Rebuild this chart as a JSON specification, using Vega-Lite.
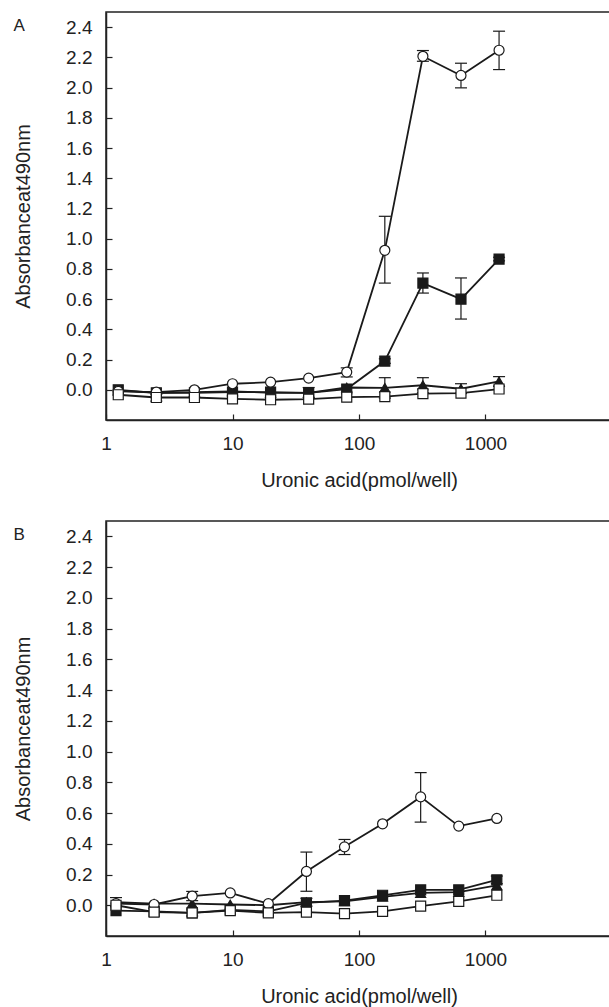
{
  "$schema": "https://vega.github.io/schema/vega-lite/v6.json",
  "padding": {"left": 12, "top": 11, "right": 0, "bottom": 0},
  "spacing": 29,
  "config": {
    "view": {"stroke": "#222", "strokeWidth": 1.5},
    "font": "Liberation Sans",
    "axis": {
      "grid": false,
      "domainColor": "#222",
      "domainWidth": 1.5,
      "tickColor": "#222",
      "tickWidth": 1.2,
      "tickSize": -6,
      "labelColor": "#222",
      "titleColor": "#222",
      "labelFont": "Liberation Sans",
      "titleFont": "Liberation Sans",
      "labelFontSize": 19,
      "titleFontSize": 20,
      "titleFontWeight": "normal",
      "labelOverlap": false
    },
    "title": {"font": "Liberation Sans", "fontSize": 17, "fontWeight": "normal", "color": "#222"}
  },
  "datasets": {
    "A": [
      {"dose": 1.25, "val": -0.005, "s": "FT"}, {"dose": 2.5, "val": -0.02, "s": "FT"}, {"dose": 5, "val": -0.015, "s": "FT"}, {"dose": 10, "val": -0.01, "s": "FT"}, {"dose": 20, "val": -0.02, "s": "FT"}, {"dose": 40, "val": -0.02, "s": "FT"}, {"dose": 80, "val": 0.015, "s": "FT"}, {"dose": 160, "val": 0.013, "s": "FT"}, {"dose": 320, "val": 0.03, "s": "FT"}, {"dose": 640, "val": 0.007, "s": "FT"}, {"dose": 1280, "val": 0.055, "s": "FT"},
      {"dose": 1.25, "val": 0.0, "s": "FS"}, {"dose": 2.5, "val": -0.02, "s": "FS"}, {"dose": 5, "val": -0.02, "s": "FS"}, {"dose": 10, "val": -0.015, "s": "FS"}, {"dose": 20, "val": -0.015, "s": "FS"}, {"dose": 40, "val": -0.02, "s": "FS"}, {"dose": 80, "val": 0.005, "s": "FS"}, {"dose": 160, "val": 0.19, "s": "FS"}, {"dose": 320, "val": 0.706, "s": "FS"}, {"dose": 640, "val": 0.6, "s": "FS"}, {"dose": 1280, "val": 0.865, "s": "FS"},
      {"dose": 1.25, "val": -0.01, "s": "OC"}, {"dose": 2.5, "val": -0.015, "s": "OC"}, {"dose": 5, "val": 0.0, "s": "OC"}, {"dose": 10, "val": 0.04, "s": "OC"}, {"dose": 20, "val": 0.05, "s": "OC"}, {"dose": 40, "val": 0.077, "s": "OC"}, {"dose": 80, "val": 0.117, "s": "OC"}, {"dose": 160, "val": 0.923, "s": "OC"}, {"dose": 320, "val": 2.207, "s": "OC"}, {"dose": 640, "val": 2.08, "s": "OC"}, {"dose": 1280, "val": 2.247, "s": "OC"},
      {"dose": 1.25, "val": -0.033, "s": "OS"}, {"dose": 2.5, "val": -0.051, "s": "OS"}, {"dose": 5, "val": -0.051, "s": "OS"}, {"dose": 10, "val": -0.06, "s": "OS"}, {"dose": 20, "val": -0.066, "s": "OS"}, {"dose": 40, "val": -0.062, "s": "OS"}, {"dose": 80, "val": -0.049, "s": "OS"}, {"dose": 160, "val": -0.045, "s": "OS"}, {"dose": 320, "val": -0.025, "s": "OS"}, {"dose": 640, "val": -0.022, "s": "OS"}, {"dose": 1280, "val": 0.005, "s": "OS"}
    ],
    "Aerr": [
      {"dose": 80, "lo": 0.085, "hi": 0.145}, {"dose": 160, "lo": 0.706, "hi": 1.148}, {"dose": 320, "lo": 2.174, "hi": 2.245}, {"dose": 640, "lo": 1.998, "hi": 2.161}, {"dose": 1280, "lo": 2.119, "hi": 2.373},
      {"dose": 40, "lo": -0.05, "hi": 0.015}, {"dose": 160, "lo": 0.175, "hi": 0.205}, {"dose": 320, "lo": 0.64, "hi": 0.773}, {"dose": 640, "lo": 0.468, "hi": 0.74}, {"dose": 1280, "lo": 0.853, "hi": 0.877},
      {"dose": 160, "lo": -0.055, "hi": 0.08}, {"dose": 320, "lo": -0.02, "hi": 0.08}, {"dose": 640, "lo": -0.025, "hi": 0.04}, {"dose": 1280, "lo": 0.023, "hi": 0.087},
      {"dose": 2.5, "lo": -0.075, "hi": -0.03}
    ],
    "B": [
      {"dose": 1.2, "val": 0.02, "s": "FT"}, {"dose": 2.4, "val": 0.01, "s": "FT"}, {"dose": 4.8, "val": 0.01, "s": "FT"}, {"dose": 9.6, "val": 0.005, "s": "FT"}, {"dose": 19.2, "val": 0.0, "s": "FT"}, {"dose": 38.4, "val": 0.02, "s": "FT"}, {"dose": 76.8, "val": 0.025, "s": "FT"}, {"dose": 153.6, "val": 0.055, "s": "FT"}, {"dose": 307.2, "val": 0.08, "s": "FT"}, {"dose": 614.4, "val": 0.085, "s": "FT"}, {"dose": 1228.8, "val": 0.13, "s": "FT"},
      {"dose": 1.2, "val": -0.035, "s": "FS"}, {"dose": 2.4, "val": -0.04, "s": "FS"}, {"dose": 4.8, "val": -0.05, "s": "FS"}, {"dose": 9.6, "val": -0.03, "s": "FS"}, {"dose": 19.2, "val": -0.04, "s": "FS"}, {"dose": 38.4, "val": 0.015, "s": "FS"}, {"dose": 76.8, "val": 0.03, "s": "FS"}, {"dose": 153.6, "val": 0.065, "s": "FS"}, {"dose": 307.2, "val": 0.1, "s": "FS"}, {"dose": 614.4, "val": 0.1, "s": "FS"}, {"dose": 1228.8, "val": 0.165, "s": "FS"},
      {"dose": 1.2, "val": 0.01, "s": "OC"}, {"dose": 2.4, "val": 0.005, "s": "OC"}, {"dose": 4.8, "val": 0.06, "s": "OC"}, {"dose": 9.6, "val": 0.08, "s": "OC"}, {"dose": 19.2, "val": 0.01, "s": "OC"}, {"dose": 38.4, "val": 0.22, "s": "OC"}, {"dose": 76.8, "val": 0.38, "s": "OC"}, {"dose": 153.6, "val": 0.53, "s": "OC"}, {"dose": 307.2, "val": 0.705, "s": "OC"}, {"dose": 614.4, "val": 0.515, "s": "OC"}, {"dose": 1228.8, "val": 0.565, "s": "OC"},
      {"dose": 1.2, "val": 0.0, "s": "OS"}, {"dose": 2.4, "val": -0.045, "s": "OS"}, {"dose": 4.8, "val": -0.05, "s": "OS"}, {"dose": 9.6, "val": -0.035, "s": "OS"}, {"dose": 19.2, "val": -0.05, "s": "OS"}, {"dose": 38.4, "val": -0.045, "s": "OS"}, {"dose": 76.8, "val": -0.055, "s": "OS"}, {"dose": 153.6, "val": -0.04, "s": "OS"}, {"dose": 307.2, "val": -0.005, "s": "OS"}, {"dose": 614.4, "val": 0.025, "s": "OS"}, {"dose": 1228.8, "val": 0.065, "s": "OS"}
    ],
    "Berr": [
      {"dose": 4.8, "lo": 0.03, "hi": 0.09}, {"dose": 38.4, "lo": 0.091, "hi": 0.346}, {"dose": 76.8, "lo": 0.33, "hi": 0.428}, {"dose": 307.2, "lo": 0.541, "hi": 0.863},
      {"dose": 1.2, "lo": -0.01, "hi": 0.05}, {"dose": 38.4, "lo": -0.005, "hi": 0.045},
      {"dose": 1228.8, "lo": 0.14, "hi": 0.19}, {"dose": 4.8, "lo": -0.07, "hi": -0.03}
    ]
  },
  "vconcat": [
    {
      "width": 506,
      "height": 408,
      "title": {"text": "A", "anchor": "start", "frame": "bounds", "offset": -23},
      "layer": [
        {
          "data": {"name": "A"},
          "mark": {"type": "line", "color": "#1a1a1a", "strokeWidth": 1.8},
          "encoding": {
            "x": {"field": "dose", "type": "quantitative", "scale": {"type": "log", "domain": [1, 2130]}, "axis": {"values": [1, 10, 100, 1000], "tickCount": 10, "format": "d", "labelFlush": false, "labelOverlap": false, "labelPadding": 20, "title": "Uronic acid(pmol/well)", "titlePadding": 17}},
            "y": {"field": "val", "type": "quantitative", "scale": {"domain": [-0.2, 2.5], "nice": false, "zero": false}, "axis": {"values": [0, 0.2, 0.4, 0.6, 0.8, 1.0, 1.2, 1.4, 1.6, 1.8, 2.0, 2.2, 2.4], "tickCount": 30, "format": ".1f", "labelOverlap": false, "labelPadding": 20, "title": "Absorbanceat490nm", "titlePadding": 32}},
            "detail": {"field": "s"}
          }
        },
        {
          "data": {"name": "Aerr"},
          "mark": {"type": "rule", "color": "#1a1a1a", "strokeWidth": 1.2},
          "encoding": {"x": {"field": "dose", "type": "quantitative"}, "y": {"field": "lo", "type": "quantitative"}, "y2": {"field": "hi"}}
        },
        {
          "data": {"name": "Aerr"},
          "mark": {"type": "tick", "orient": "horizontal", "color": "#1a1a1a", "size": 12, "thickness": 1.2, "opacity": 1},
          "encoding": {"x": {"field": "dose", "type": "quantitative"}, "y": {"field": "lo", "type": "quantitative"}}
        },
        {
          "data": {"name": "Aerr"},
          "mark": {"type": "tick", "orient": "horizontal", "color": "#1a1a1a", "size": 12, "thickness": 1.2, "opacity": 1},
          "encoding": {"x": {"field": "dose", "type": "quantitative"}, "y": {"field": "hi", "type": "quantitative"}}
        },
        {
          "data": {"name": "A"},
          "mark": {"type": "point", "filled": false, "stroke": "#1a1a1a", "strokeWidth": 1.2, "size": 100, "opacity": 1},
          "encoding": {
            "x": {"field": "dose", "type": "quantitative"},
            "y": {"field": "val", "type": "quantitative"},
            "shape": {"field": "s", "type": "nominal", "scale": {"domain": ["OC", "FS", "FT", "OS"], "range": ["circle", "square", "triangle-up", "square"]}, "legend": null},
            "fill": {"field": "s", "type": "nominal", "scale": {"domain": ["OC", "FS", "FT", "OS"], "range": ["#ffffff", "#1a1a1a", "#1a1a1a", "#ffffff"]}, "legend": null}
          }
        }
      ]
    },
    {
      "width": 506,
      "height": 415,
      "title": {"text": "B", "anchor": "start", "frame": "bounds", "offset": -23},
      "layer": [
        {
          "data": {"name": "B"},
          "mark": {"type": "line", "color": "#1a1a1a", "strokeWidth": 1.8},
          "encoding": {
            "x": {"field": "dose", "type": "quantitative", "scale": {"type": "log", "domain": [1, 2130]}, "axis": {"values": [1, 10, 100, 1000], "tickCount": 10, "format": "d", "labelFlush": false, "labelOverlap": false, "labelPadding": 20, "title": "Uronic acid(pmol/well)", "titlePadding": 17}},
            "y": {"field": "val", "type": "quantitative", "scale": {"domain": [-0.2, 2.5], "nice": false, "zero": false}, "axis": {"values": [0, 0.2, 0.4, 0.6, 0.8, 1.0, 1.2, 1.4, 1.6, 1.8, 2.0, 2.2, 2.4], "tickCount": 30, "format": ".1f", "labelOverlap": false, "labelPadding": 20, "title": "Absorbanceat490nm", "titlePadding": 32}},
            "detail": {"field": "s"}
          }
        },
        {
          "data": {"name": "Berr"},
          "mark": {"type": "rule", "color": "#1a1a1a", "strokeWidth": 1.2},
          "encoding": {"x": {"field": "dose", "type": "quantitative"}, "y": {"field": "lo", "type": "quantitative"}, "y2": {"field": "hi"}}
        },
        {
          "data": {"name": "Berr"},
          "mark": {"type": "tick", "orient": "horizontal", "color": "#1a1a1a", "size": 12, "thickness": 1.2, "opacity": 1},
          "encoding": {"x": {"field": "dose", "type": "quantitative"}, "y": {"field": "lo", "type": "quantitative"}}
        },
        {
          "data": {"name": "Berr"},
          "mark": {"type": "tick", "orient": "horizontal", "color": "#1a1a1a", "size": 12, "thickness": 1.2, "opacity": 1},
          "encoding": {"x": {"field": "dose", "type": "quantitative"}, "y": {"field": "hi", "type": "quantitative"}}
        },
        {
          "data": {"name": "B"},
          "mark": {"type": "point", "filled": false, "stroke": "#1a1a1a", "strokeWidth": 1.2, "size": 100, "opacity": 1},
          "encoding": {
            "x": {"field": "dose", "type": "quantitative"},
            "y": {"field": "val", "type": "quantitative"},
            "shape": {"field": "s", "type": "nominal", "scale": {"domain": ["OC", "FS", "FT", "OS"], "range": ["circle", "square", "triangle-up", "square"]}, "legend": null},
            "fill": {"field": "s", "type": "nominal", "scale": {"domain": ["OC", "FS", "FT", "OS"], "range": ["#ffffff", "#1a1a1a", "#1a1a1a", "#ffffff"]}, "legend": null}
          }
        }
      ]
    }
  ]
}
